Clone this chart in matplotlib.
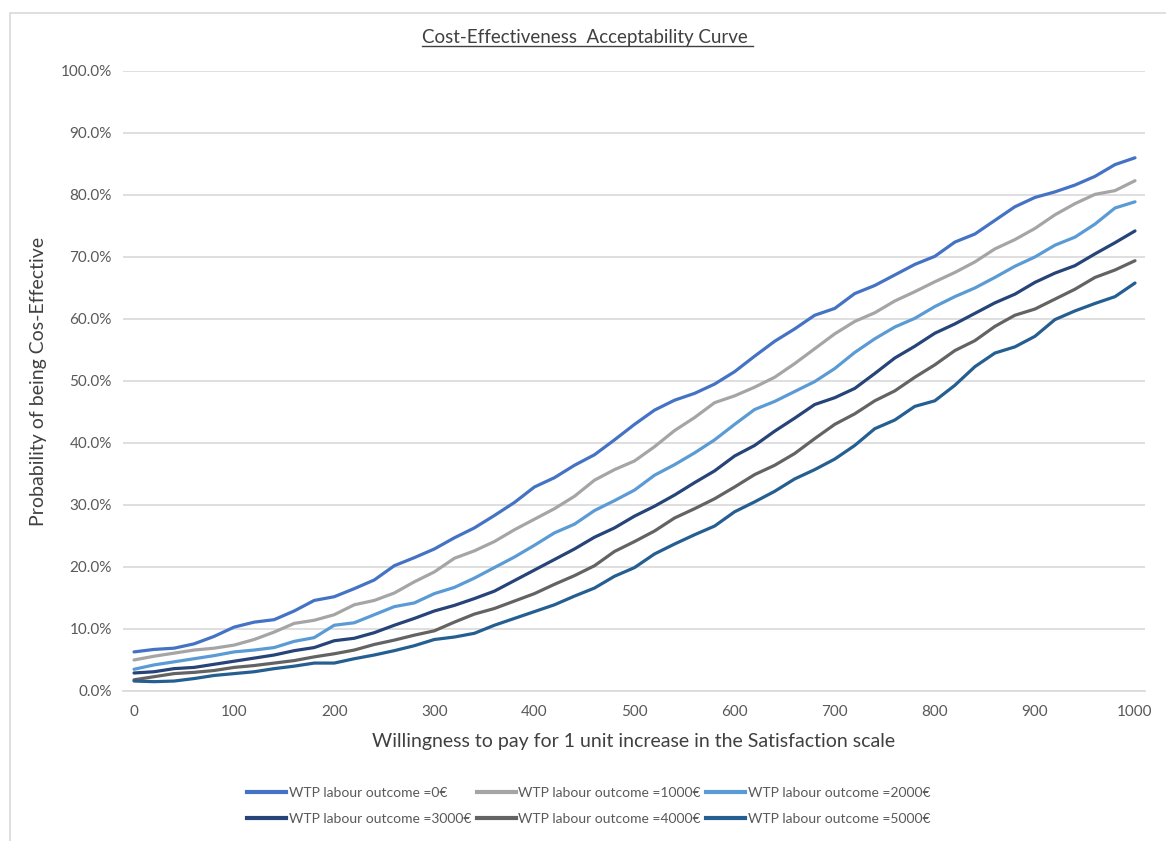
import matplotlib
matplotlib.use('Agg')
import matplotlib.pyplot as plt
from matplotlib.lines import Line2D
from matplotlib.patches import Rectangle
from matplotlib.ticker import PercentFormatter

plt.rcParams['font.family'] = ['Liberation Sans Narrow', 'Lato', 'DejaVu Sans']

wtp = list(range(0, 1001, 20))

labels = ['WTP labour outcome =0€', 'WTP labour outcome =1000€', 'WTP labour outcome =2000€',
          'WTP labour outcome =3000€', 'WTP labour outcome =4000€', 'WTP labour outcome =5000€']
colors = ['#4472C4', '#A5A5A5', '#5B9BD5', '#264478', '#636363', '#255E91']

wtp_0 = [6.3, 6.7, 6.9, 7.6, 8.8, 10.3, 11.1, 11.5, 12.9, 14.6, 15.2, 16.5, 17.9, 20.2, 21.5, 22.9,
         24.7, 26.3, 28.3, 30.4, 32.9, 34.4, 36.4, 38.1, 40.5, 43.0, 45.3, 46.9, 48.0, 49.5, 51.5,
         54.0, 56.4, 58.4, 60.6, 61.7, 64.1, 65.4, 67.1, 68.8, 70.1, 72.4, 73.7, 75.9, 78.1, 79.6,
         80.5, 81.6, 83.0, 84.9, 86.0]
wtp_1000 = [5.0, 5.6, 6.1, 6.6, 6.9, 7.4, 8.3, 9.5, 10.9, 11.4, 12.3, 13.9, 14.6, 15.8, 17.6, 19.2,
            21.4, 22.6, 24.1, 26.0, 27.7, 29.4, 31.4, 34.0, 35.7, 37.1, 39.4, 42.0, 44.1, 46.5, 47.6,
            49.0, 50.6, 52.8, 55.2, 57.6, 59.6, 61.0, 62.9, 64.4, 66.0, 67.5, 69.2, 71.3, 72.8, 74.6,
            76.8, 78.6, 80.1, 80.7, 82.3]
wtp_2000 = [3.5, 4.2, 4.7, 5.2, 5.7, 6.3, 6.6, 7.0, 8.0, 8.6, 10.6, 11.0, 12.3, 13.6, 14.2, 15.7,
            16.7, 18.2, 19.9, 21.6, 23.5, 25.5, 26.9, 29.1, 30.7, 32.4, 34.8, 36.5, 38.4, 40.5, 43.0,
            45.4, 46.7, 48.3, 49.9, 52.0, 54.6, 56.8, 58.7, 60.1, 62.0, 63.6, 65.0, 66.7, 68.5, 70.0,
            71.9, 73.2, 75.3, 77.9, 78.9]
wtp_3000 = [2.9, 3.1, 3.6, 3.8, 4.3, 4.8, 5.3, 5.8, 6.5, 7.0, 8.1, 8.5, 9.4, 10.6, 11.7, 12.9,
            13.8, 14.9, 16.1, 17.8, 19.5, 21.2, 22.9, 24.8, 26.3, 28.2, 29.8, 31.6, 33.6, 35.5, 37.9,
            39.6, 41.9, 44.0, 46.2, 47.3, 48.8, 51.2, 53.7, 55.6, 57.7, 59.2, 60.9, 62.6, 64.0, 65.9,
            67.4, 68.6, 70.5, 72.3, 74.2]
wtp_4000 = [1.8, 2.3, 2.8, 3.0, 3.3, 3.8, 4.1, 4.5, 4.9, 5.5, 6.0, 6.6, 7.5, 8.2, 9.0, 9.7,
            11.1, 12.4, 13.3, 14.5, 15.7, 17.2, 18.6, 20.2, 22.5, 24.1, 25.8, 27.9, 29.4, 31.0, 32.9,
            34.9, 36.4, 38.3, 40.7, 43.0, 44.7, 46.8, 48.4, 50.6, 52.6, 54.9, 56.5, 58.8, 60.6, 61.6,
            63.2, 64.8, 66.7, 67.9, 69.4]
wtp_5000 = [1.6, 1.5, 1.6, 2.0, 2.5, 2.8, 3.1, 3.6, 4.0, 4.5, 4.5, 5.2, 5.8, 6.5, 7.3, 8.3,
            8.7, 9.3, 10.6, 11.7, 12.8, 13.9, 15.3, 16.6, 18.5, 19.9, 22.1, 23.7, 25.2, 26.6, 28.9,
            30.5, 32.2, 34.2, 35.7, 37.4, 39.6, 42.3, 43.7, 45.9, 46.8, 49.3, 52.3, 54.5, 55.5, 57.2,
            59.9, 61.3, 62.5, 63.6, 65.8]
series = [wtp_0, wtp_1000, wtp_2000, wtp_3000, wtp_4000, wtp_5000]

fig = plt.figure(figsize=(11.66, 8.41), dpi=100)
ax = fig.add_axes([0.1055, 0.1784, 0.8765, 0.7372])

for vals, lab, col in zip(series, labels, colors):
    ax.plot(wtp, vals, color=col, lw=2.3, label=lab, solid_capstyle='round')

ax.set_xlim(-11, 1010)
ax.set_ylim(0, 100)
ax.set_xticks(range(0, 1001, 100))
ax.set_yticks(range(0, 101, 10))
ax.yaxis.set_major_formatter(PercentFormatter(decimals=1))
ax.grid(axis='y', color='#D9D9D9', lw=1.2)
ax.set_axisbelow(True)
for s in ['top', 'right', 'left']:
    ax.spines[s].set_visible(False)
ax.spines['bottom'].set_color('#D9D9D9')
ax.spines['bottom'].set_linewidth(1.2)
ax.tick_params(length=0, labelsize=11, colors='#595959', pad=8)
ax.tick_params(axis='x', pad=10)

ax.set_xlabel('Willingness to pay for 1 unit increase in the Satisfaction scale',
              fontsize=14, color='#404040', labelpad=10)
ax.set_ylabel('Probability of being Cos-Effective', fontsize=14, color='#404040', labelpad=10)

title = fig.text(0.504, 0.955, 'Cost-Effectiveness  Acceptability Curve ',
                 ha='center', va='center', fontsize=13.5, color='#404040')

# legend filled row by row like Excel
order = [0, 3, 1, 4, 2, 5]
handles = [Line2D([], [], color=colors[i], lw=3) for i in order]
fig.legend(handles, [labels[i] for i in order], loc='center', bbox_to_anchor=(0.505, 0.0415),
           ncol=3, frameon=False, fontsize=10, handlelength=2.8, handletextpad=0.2,
           columnspacing=0.4, labelspacing=1.0, labelcolor='#595959')

# chart-area border
fig.patches.append(Rectangle((10 / 1166, -0.1), 1.2, 1.1 - 13 / 841, transform=fig.transFigure,
                             fill=False, edgecolor='#D9D9D9', lw=1.2))

# underline the title
fig.canvas.draw()
bb = title.get_window_extent().transformed(fig.transFigure.inverted())
fig.lines.append(Line2D([bb.x0, bb.x1], [bb.y0 + 0.001, bb.y0 + 0.001], transform=fig.transFigure,
                        color='#404040', lw=1))

fig.savefig('out.png', dpi=100)
